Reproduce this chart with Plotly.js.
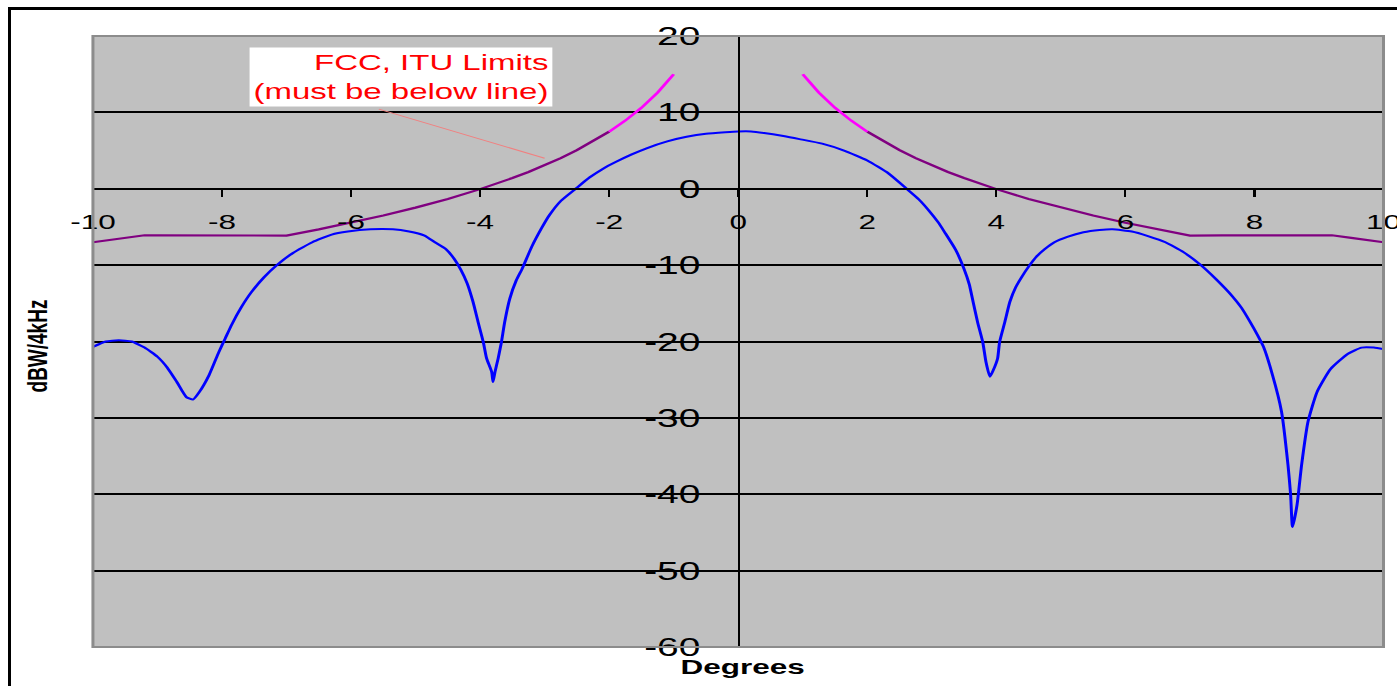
<!DOCTYPE html>
<html>
<head>
<meta charset="utf-8">
<script src="https://cdn.plot.ly/plotly-3.0.1.min.js"></script>
<style>
  html, body { margin: 0; padding: 0; background: #ffffff; overflow: hidden; width: 1397px; height: 686px; }
  #wrap { position: absolute; left: 0; top: 0; width: 932px; height: 686px; transform: scaleX(1.49893); transform-origin: 0 0; }
  #chart { width: 932px; height: 686px; }
  #frame { position: absolute; left: 8px; top: 7px; width: 1420px; height: 676px;
           border-left: 3px solid #000; border-top: 3px solid #000; border-bottom: 1px solid #a0a0a0; pointer-events: none; }
</style>
</head>
<body>
<div id="wrap"><div id="chart"></div></div>
<div id="frame"></div>
<script>
// ---- data ----
const patternX = [-10.0, -9.8, -9.6, -9.4, -9.2, -9.0, -8.85, -8.7, -8.55, -8.45, -8.35, -8.2, -8.05, -7.95, -7.85, -7.7, -7.55, -7.35, -7.15, -6.9, -6.6, -6.3, -6.05, -5.7, -5.35, -5.1, -4.87, -4.7, -4.53, -4.4, -4.3, -4.2, -4.11, -4.03, -3.95, -3.9, -3.82, -3.8, -3.77, -3.72, -3.67, -3.62, -3.54, -3.44, -3.35, -3.2, -3.05, -2.93, -2.75, -2.52, -2.3, -2.1, -1.9, -1.65, -1.42, -1.1, -0.8, -0.5, -0.2, 0.0, 0.2, 0.4, 0.7, 0.95, 1.3, 1.64, 2.0, 2.33, 2.61, 2.8, 2.95, 3.1, 3.2, 3.37, 3.5, 3.58, 3.64, 3.71, 3.79, 3.84, 3.9, 3.95, 4.02, 4.05, 4.13, 4.21, 4.3, 4.39, 4.5, 4.62, 4.75, 4.9, 5.1, 5.35, 5.6, 5.8, 6.1, 6.35, 6.62, 6.9, 7.17, 7.4, 7.65, 7.8, 7.93, 8.05, 8.14, 8.28, 8.42, 8.52, 8.56, 8.59, 8.66, 8.73, 8.83, 8.97, 9.18, 9.45, 9.66, 9.85, 10.0];
const patternY = [-20.7, -20.0, -19.85, -20.0, -20.8, -22.0, -23.4, -25.3, -27.3, -27.6, -26.6, -24.4, -21.4, -19.6, -17.8, -15.5, -13.6, -11.6, -10.0, -8.4, -7.0, -6.0, -5.6, -5.3, -5.3, -5.6, -6.1, -7.0, -7.9, -9.2, -10.6, -12.4, -14.8, -17.5, -20.1, -22.2, -24.0, -25.3, -24.0, -22.2, -20.1, -17.5, -14.4, -12.0, -10.5, -7.6, -5.2, -3.5, -1.6, 0.0, 1.5, 2.6, 3.5, 4.5, 5.3, 6.2, 6.8, 7.2, 7.4, 7.5, 7.5, 7.3, 6.9, 6.5, 5.9, 5.0, 3.7, 2.0, 0.0, -1.4, -2.8, -4.4, -5.7, -8.0, -10.5, -12.5, -14.8, -17.5, -20.1, -22.7, -24.6, -23.8, -22.2, -20.1, -17.5, -14.8, -12.9, -11.6, -10.2, -8.9, -7.9, -7.0, -6.3, -5.7, -5.4, -5.3, -5.6, -6.2, -7.0, -8.3, -10.0, -11.8, -14.0, -15.6, -17.4, -19.2, -20.7, -24.4, -29.2, -36.2, -40.0, -44.3, -41.4, -36.2, -30.5, -26.6, -23.6, -21.6, -20.8, -20.8, -21.0];

const limitX = [-10.0, -9.75, -9.5, -9.2, -9.0, -8.5, -8.0, -7.5, -7.0, -6.5, -6.0, -5.5, -5.0, -4.5, -4.0, -3.75, -3.5, -3.25, -3.0, -2.75, -2.5, -2.25, -2.0, null,
                2.0, 2.25, 2.5, 2.75, 3.0, 3.25, 3.5, 3.75, 4.0, 4.5, 5.0, 5.5, 6.0, 6.5, 7.0, 7.5, 8.0, 8.5, 9.0, 9.2, 9.5, 9.75, 10.0];
const limitY = [-7.0, -6.73, -6.44, -6.09, -6.1, -6.1, -6.1, -6.1, -6.13, -5.32, -4.45, -3.51, -2.47, -1.33, -0.05, 0.65, 1.40, 2.20, 3.07, 4.02, 5.05, 6.20, 7.47, null,
                7.47, 6.20, 5.05, 4.02, 3.07, 2.20, 1.40, 0.65, -0.05, -1.33, -2.47, -3.51, -4.45, -5.32, -6.13, -6.1, -6.1, -6.1, -6.1, -6.09, -6.44, -6.73, -7.0];

const nearLimitX = [-2.0, -1.75, -1.5, -1.25, -1.0, null, 1.0, 1.25, 1.5, 1.75, 2.0];
const nearLimitY = [7.47, 8.92, 10.60, 12.58, 15.0, null, 15.0, 12.58, 10.60, 8.92, 7.47];

const xTickVals = [-10, -8, -6, -4, -2, 0, 2, 4, 6, 8, 10];
const xTickText = ['-10', '-8', '-6', '-4', '-2', '0', '2', '4', '6', '8', '10'];
const yTickVals = [-60, -50, -40, -30, -20, -10, 0, 10, 20];
const yTickText = ['-60', '-50', '-40', '-30', '-20', '-10', '0', '10', '20'];

const xTitle = 'Degrees';
const yTitle = 'dBW/4kHz';
const noteText = 'FCC, ITU Limits<br>(must be below line)';

// ---- chart ----
const traces = [
  { x: patternX, y: patternY, type: 'scatter', mode: 'lines', line: { color: '#0000ff', width: 2, shape: 'spline', smoothing: 0.5 }, name: 'Pattern' },
  { x: limitX, y: limitY, type: 'scatter', mode: 'lines', line: { color: '#800080', width: 2.2 }, connectgaps: false, name: 'Limit' },
  { x: nearLimitX, y: nearLimitY, type: 'scatter', mode: 'lines', line: { color: '#ff00ff', width: 2.2 }, connectgaps: false, name: 'Limit near' }
];

const font = 'Liberation Sans, Arial, sans-serif';

const layout = {
  width: 932, height: 686,
  margin: { l: 61.6, r: 8.9, t: 36, b: 39, pad: 0 },
  paper_bgcolor: '#ffffff',
  plot_bgcolor: '#c0c0c0',
  showlegend: false,
  font: { family: font, color: '#000000' },
  xaxis: {
    range: [-10, 10], anchor: 'free', position: 0.75,
    tickmode: 'array', tickvals: xTickVals, ticktext: xTickText,
    showgrid: false, zeroline: false,
    showline: true, linecolor: '#000000', linewidth: 2,
    ticks: 'outside', ticklen: 7, tickwidth: 1.4, tickcolor: '#000000',
    tickfont: { size: 21, family: font, color: '#000000' },
    ticklabelstandoff: 7, ticklabeloverflow: 'allow'
  },
  yaxis: {
    range: [-60, 20], anchor: 'free', position: 0.5,
    tickmode: 'array', tickvals: yTickVals, ticktext: yTickText,
    showgrid: true, gridcolor: '#000000', gridwidth: 2,
    zeroline: false,
    showline: true, linecolor: '#000000', linewidth: 1.3,
    ticks: 'outside', ticklen: 11, tickwidth: 2, tickcolor: '#000000',
    tickfont: { size: 26, family: font, color: '#000000' },
    ticklabelstandoff: 9, ticklabeloverflow: 'allow'
  },
  shapes: [
    { type: 'rect', xref: 'paper', yref: 'paper', x0: 0, x1: 1, y0: 0, y1: 1,
      line: { color: '#8c8c8c', width: 2 }, fillcolor: 'rgba(0,0,0,0)', layer: 'above' },
    { type: 'line', xref: 'x', yref: 'y', x0: -5.57, y0: 10.43, x1: -3.0, y1: 4.0,
      line: { color: '#f08080', width: 1 }, layer: 'above' }
  ],
  annotations: [
    { text: noteText, xref: 'x', yref: 'y', x: -5.23, y: 14.69, xanchor: 'center', yanchor: 'middle',
      showarrow: false, align: 'right', bgcolor: '#ffffff', borderpad: 2,
      font: { size: 22, family: font, color: '#ff0000' } },
    { text: '<b>' + yTitle + '</b>', xref: 'paper', yref: 'paper', x: -0.0436, y: 0.4926,
      xanchor: 'center', yanchor: 'middle', textangle: -90, showarrow: false,
      font: { size: 19, family: font, color: '#000000' } },
    { text: '<b>' + xTitle + '</b>', xref: 'paper', yref: 'paper', x: 0.5039, y: -0.0327,
      xanchor: 'center', yanchor: 'middle', showarrow: false,
      font: { size: 21, family: font, color: '#000000' } }
  ]
};

Plotly.newPlot('chart', traces, layout, { staticPlot: true, displayModeBar: false });
</script>
</body>
</html>
